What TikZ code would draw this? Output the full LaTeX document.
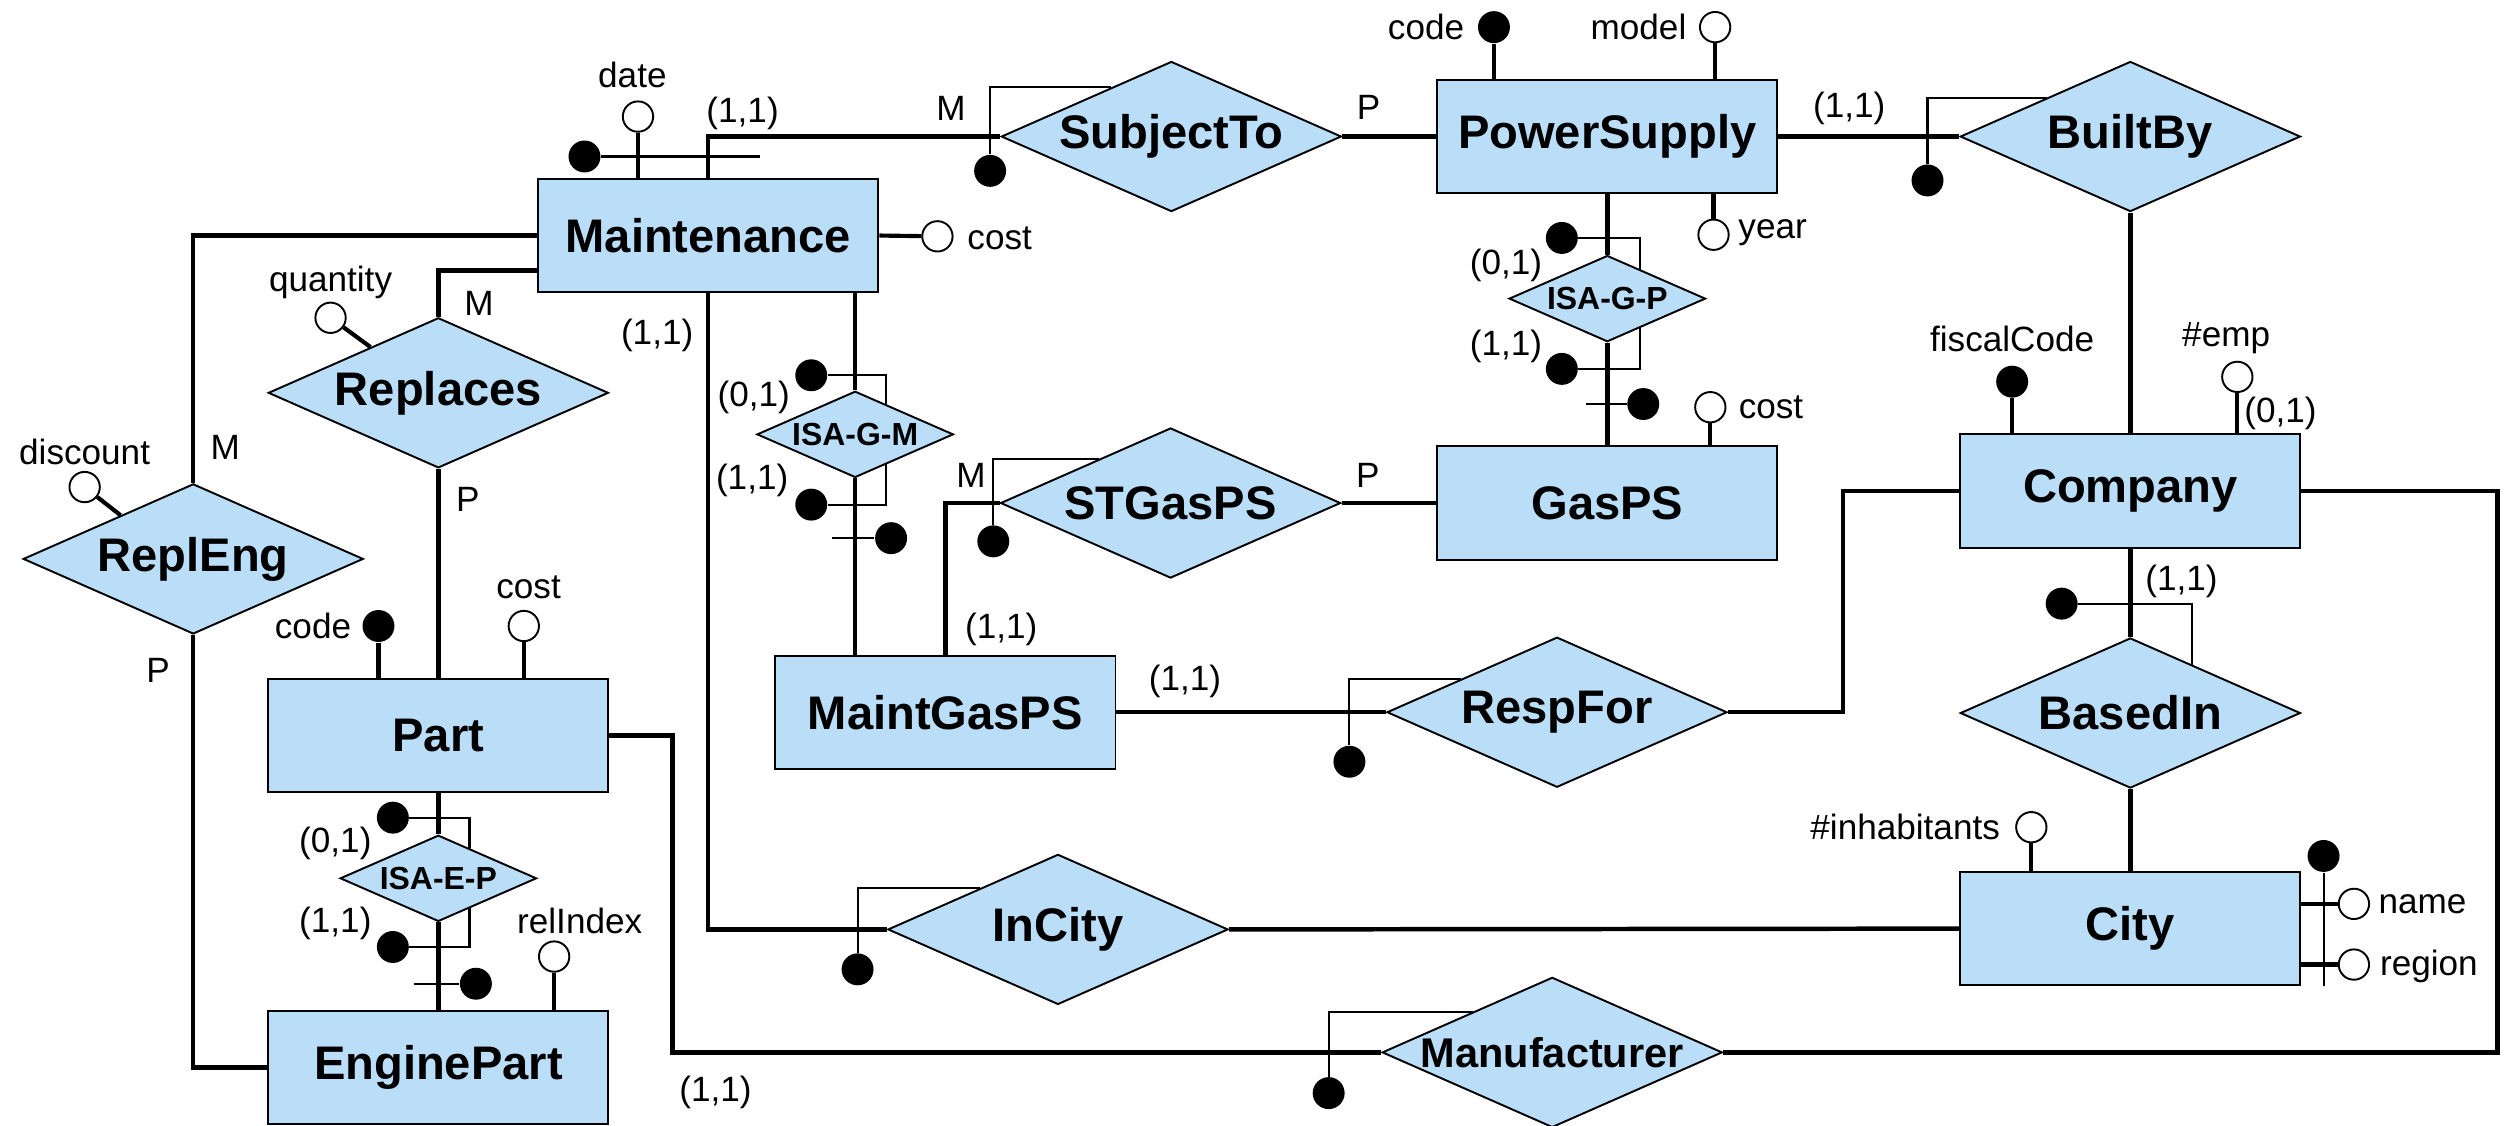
\documentclass[tikz,border=0pt]{standalone}
\usepackage{fontspec}
\setmainfont{Liberation Sans}
\usetikzlibrary{shapes.geometric,backgrounds,positioning}
\definecolor{erfill}{RGB}{187,222,248}

\begin{document}
\begin{tikzpicture}[x=0.5pt,y=-0.5pt,
  ent/.style={draw,line width=0.6pt,fill=erfill,inner sep=0pt,minimum width=106.5pt,minimum height=35.5pt,font=\fontsize{14.75}{17}\selectfont\bfseries},
  relname/.style={inner sep=0pt,font=\fontsize{14.75}{17}\selectfont\bfseries},
  rel/.style={diamond,draw,line width=0.6pt,fill=erfill,inner sep=0pt,minimum width=106.5pt,minimum height=47pt,label={[relname]center:#1}},
  isa/.style={diamond,draw,line width=0.6pt,fill=erfill,inner sep=0pt,minimum width=61.5pt,minimum height=27pt,label={[inner sep=0pt,font=\fontsize{10}{12}\selectfont\bfseries]center:#1}},
  kdot/.style={circle,fill=black,inner sep=0pt,minimum size=10pt},
  odot/.style={circle,draw,line width=0.6pt,fill=white,inner sep=0pt,minimum size=9.5pt},
  lab/.style={inner sep=0pt,font=\fontsize{11}{13}\selectfont},
  conn/.style={line width=1.4pt},
  atl/.style={line width=1.3pt},
  idl/.style={line width=0.65pt}]
\useasboundingbox (0,0) rectangle (1568,705);

\node[ent] (maint) at (443.5,147.5) {Maintenance};
\node[ent] (psup) at (1006.5,85.5) {PowerSupply};
\node[ent] (gasps) at (1006.5,315) {GasPS};
\node[ent] (comp) at (1334,307.5) {Company};
\node[ent] (mgps) at (592,446) {MaintGasPS};
\node[ent] (part) at (274.5,460.5) {Part};
\node[ent] (epart) at (274.5,668.5) {EnginePart};
\node[ent] (city) at (1334,581.5) {City};

\node[rel=SubjectTo] (subj) at (733.5,85.5) {};
\node[rel=BuiltBy] (built) at (1334,85.5) {};
\node[rel=Replaces] (repl) at (274.5,246) {};
\node[rel=ReplEng] (repleng) at (121,350) {};
\node[rel=STGasPS] (stg) at (733,315) {};
\node[rel=RespFor] (resp) at (975,446) {};
\node[rel=BasedIn] (based) at (1334,446.5) {};
\node[rel=InCity] (incity) at (662.5,582) {};
\node[rel={\fontsize{13}{15}\selectfont Manufacturer}] (manu) at (972,659) {};
\node[isa=ISA-G-P] (isagp) at (1006.5,187) {};
\node[isa=ISA-G-M] (isagm) at (535.5,272) {};
\node[isa=ISA-E-P] (isaep) at (274.5,550) {};

\node[odot] (date) at (399.5,73) {};
\node[kdot] (mid) at (366,98) {};
\node[odot] (mcost) at (587,148) {};
\node[kdot] (pcode) at (935.5,17) {};
\node[odot] (model) at (1074,17) {};
\node[odot] (year) at (1073,147) {};
\node[odot] (gcost) at (1071,255) {};
\node[odot] (qty) at (207,199) {};
\node[odot] (disc) at (53,305) {};
\node[kdot] (partcode) at (237,392) {};
\node[odot] (partcost) at (328,392) {};
\node[odot] (relidx) at (347,599) {};
\node[kdot] (fiscal) at (1260,239) {};
\node[odot] (emp) at (1401,236) {};
\node[odot] (inh) at (1272,518) {};
\node[odot] (cname) at (1474,566) {};
\node[odot] (cregion) at (1474,604) {};
\node[kdot] (cityid) at (1455,536) {};

\node[kdot] (sdot) at (620,107) {};
\node[kdot] (bdot) at (1207,113) {};
\node[kdot] (sgdot) at (622,339) {};
\node[kdot] (rdot) at (845,477) {};
\node[kdot] (idot) at (537,607) {};
\node[kdot] (mfdot) at (832,684.5) {};
\node[kdot] (bidot) at (1291,378) {};
\node[kdot] (gmdot1) at (508,235) {};\node[kdot] (gmdot2) at (508,316) {};\node[kdot] (gmdot3) at (558,337) {};
\node[kdot] (gpdot1) at (978,149) {};\node[kdot] (gpdot2) at (978,231) {};\node[kdot] (gpdot3) at (1029,253) {};
\node[kdot] (epdot1) at (246,512) {};\node[kdot] (epdot2) at (246,593) {};\node[kdot] (epdot3) at (298,616) {};
\coordinate (midend) at (476,98);
\coordinate (gmx) at (555,272);\coordinate (gmcut) at (521,337);
\coordinate (gpx) at (1027,187);\coordinate (gpcut) at (993,253);
\coordinate (epx) at (294,550);\coordinate (epcut) at (259,616);
\coordinate (rc) at (1154,400);\coordinate (rc2) at (1564,400);\coordinate (pc) at (421,500);

\node[lab] (datet) at (396,47) {date};
\node[lab] (mcostt) at (626,149) {cost};
\node[lab] (pcodet) at (893,17) {code};
\node[lab] (modelt) at (1026,17) {model};
\node[lab] (yeart) at (1110,146) {year};
\node[lab] (gcostt) at (1109,255) {cost};
\node[lab] (qtyt) at (207,177) {quantity};
\node[lab] (disct) at (53,283) {discount};
\node[lab] (partcodet) at (196,392) {code};
\node[lab] (partcostt) at (331,368) {cost};
\node[lab] (relidxt) at (363,577) {relIndex};
\node[lab] (fiscalt) at (1260,212) {fiscalCode};
\node[lab] (empt) at (1394,212) {\#emp};
\node[lab] (inht) at (1193,518) {\#inhabitants};
\node[lab] (cnamet) at (1517,566) {name};
\node[lab] (cregiont) at (1521,605) {region};

\node[lab] (c1) at (465,71) {(1,1)};
\node[lab] (c2) at (595.5,68) {M};
\node[lab] (c3) at (857,67) {P};
\node[lab] (c4) at (1158,68) {(1,1)};
\node[lab] (c5) at (943,166) {(0,1)};
\node[lab] (c6) at (943,217) {(1,1)};
\node[lab] (c7) at (300,190) {M};
\node[lab] (c8) at (411.5,210) {(1,1)};
\node[lab] (c9) at (472,249) {(0,1)};
\node[lab] (c10) at (471,301) {(1,1)};
\node[lab] (c11) at (141,280) {M};
\node[lab] (c12) at (293,313) {P};
\node[lab] (c13) at (99,420) {P};
\node[lab] (c14) at (210,528) {(0,1)};
\node[lab] (c15) at (210,578) {(1,1)};
\node[lab] (c16) at (448,684) {(1,1)};
\node[lab] (c17) at (608,298) {M};
\node[lab] (c18) at (856.5,298) {P};
\node[lab] (c19) at (627,394) {(1,1)};
\node[lab] (c20) at (742,427) {(1,1)};
\node[lab] (c21) at (1428,259) {(0,1)};
\node[lab] (c22) at (1366,364) {(1,1)};

\begin{scope}[on background layer]
\draw[conn] (maint.north) |- (subj.west);
\draw[conn] (subj.east) -- (psup.west);
\draw[conn] (psup.east) -- (built.west);
\draw[conn] (built.south) -- (comp.north);
\draw[conn] (maint.west) -| (repleng.north);
\draw[conn] ([yshift=-11pt]maint.west) -| (repl.north);
\draw[conn] (repl.south) -- (part.north);
\draw[conn] (repleng.south) |- (epart.west);
\draw[conn] (maint.south) |- (incity.west);
\draw[conn] (isagm.north |- maint.south) -- (isagm.north);
\draw[conn] (isagm.south) -- (isagm.south |- mgps.north);
\draw[conn] (psup.south) -- (isagp.north);
\draw[conn] (isagp.south) -- (gasps.north);
\draw[conn] (part.south) -- (isaep.north);
\draw[conn] (isaep.south) -- (epart.north);
\draw[conn] (mgps.north) |- (stg.west);
\draw[conn] (stg.east) -- (gasps.west);
\draw[conn] (mgps.east) -- (resp.west);
\draw[conn] (resp.east) -| (rc |- comp.west) -- (comp.west);
\draw[conn] (comp.east) -| (rc2 |- manu.east) -- (manu.east);
\draw[conn] (part.east) -| (pc |- manu.west) -- (manu.west);
\draw[conn] (incity.east) -- (city.west);
\draw[conn] (comp.south) -- (based.north);
\draw[conn] (based.south) -- (city.north);

\draw[atl] (date) -- (date |- maint.north);
\draw[atl] (maint.east) -- (mcost);
\draw[atl] (pcode) -- (pcode |- psup.north);
\draw[atl] (model) -- (model |- psup.north);
\draw[atl] (year) -- (year |- psup.south);
\draw[atl] (gcost) -- (gcost |- gasps.north);
\draw[atl] (qty) -- (repl.146);
\draw[atl] (disc) -- (repleng.149);
\draw[atl] (partcode) -- (partcode |- part.north);
\draw[atl] (partcost) -- (partcost |- part.north);
\draw[atl] (relidx) -- (relidx |- epart.north);
\draw[atl] (fiscal) -- (fiscal |- comp.north);
\draw[atl] (emp) -- (emp |- comp.north);
\draw[atl] (inh) -- (inh |- city.north);
\draw[atl] (cname) -- (cname -| city.east);
\draw[atl] (cregion) -- (cregion -| city.east);

\draw[idl] (cityid) -- (cityid |- city.south);
\draw[idl] (mid) -- (midend);
\draw[idl] (subj.141) -| (sdot);
\draw[idl] (built.155) -| (bdot);
\draw[idl] (stg.148) -| (sgdot);
\draw[idl] (resp.161) -| (rdot);
\draw[idl] (incity.152) -| (idot);
\draw[idl] (manu.153) -| (mfdot);
\draw[idl] (based.38) |- (bidot);
\draw[idl] (gmdot1) -| (gmx) |- (gmdot2);
\draw[idl] (gmcut) -- (gmdot3);
\draw[idl] (gpdot1) -| (gpx) |- (gpdot2);
\draw[idl] (gpcut) -- (gpdot3);
\draw[idl] (epdot1) -| (epx) |- (epdot2);
\draw[idl] (epcut) -- (epdot3);
\end{scope}
\end{tikzpicture}
\end{document}
